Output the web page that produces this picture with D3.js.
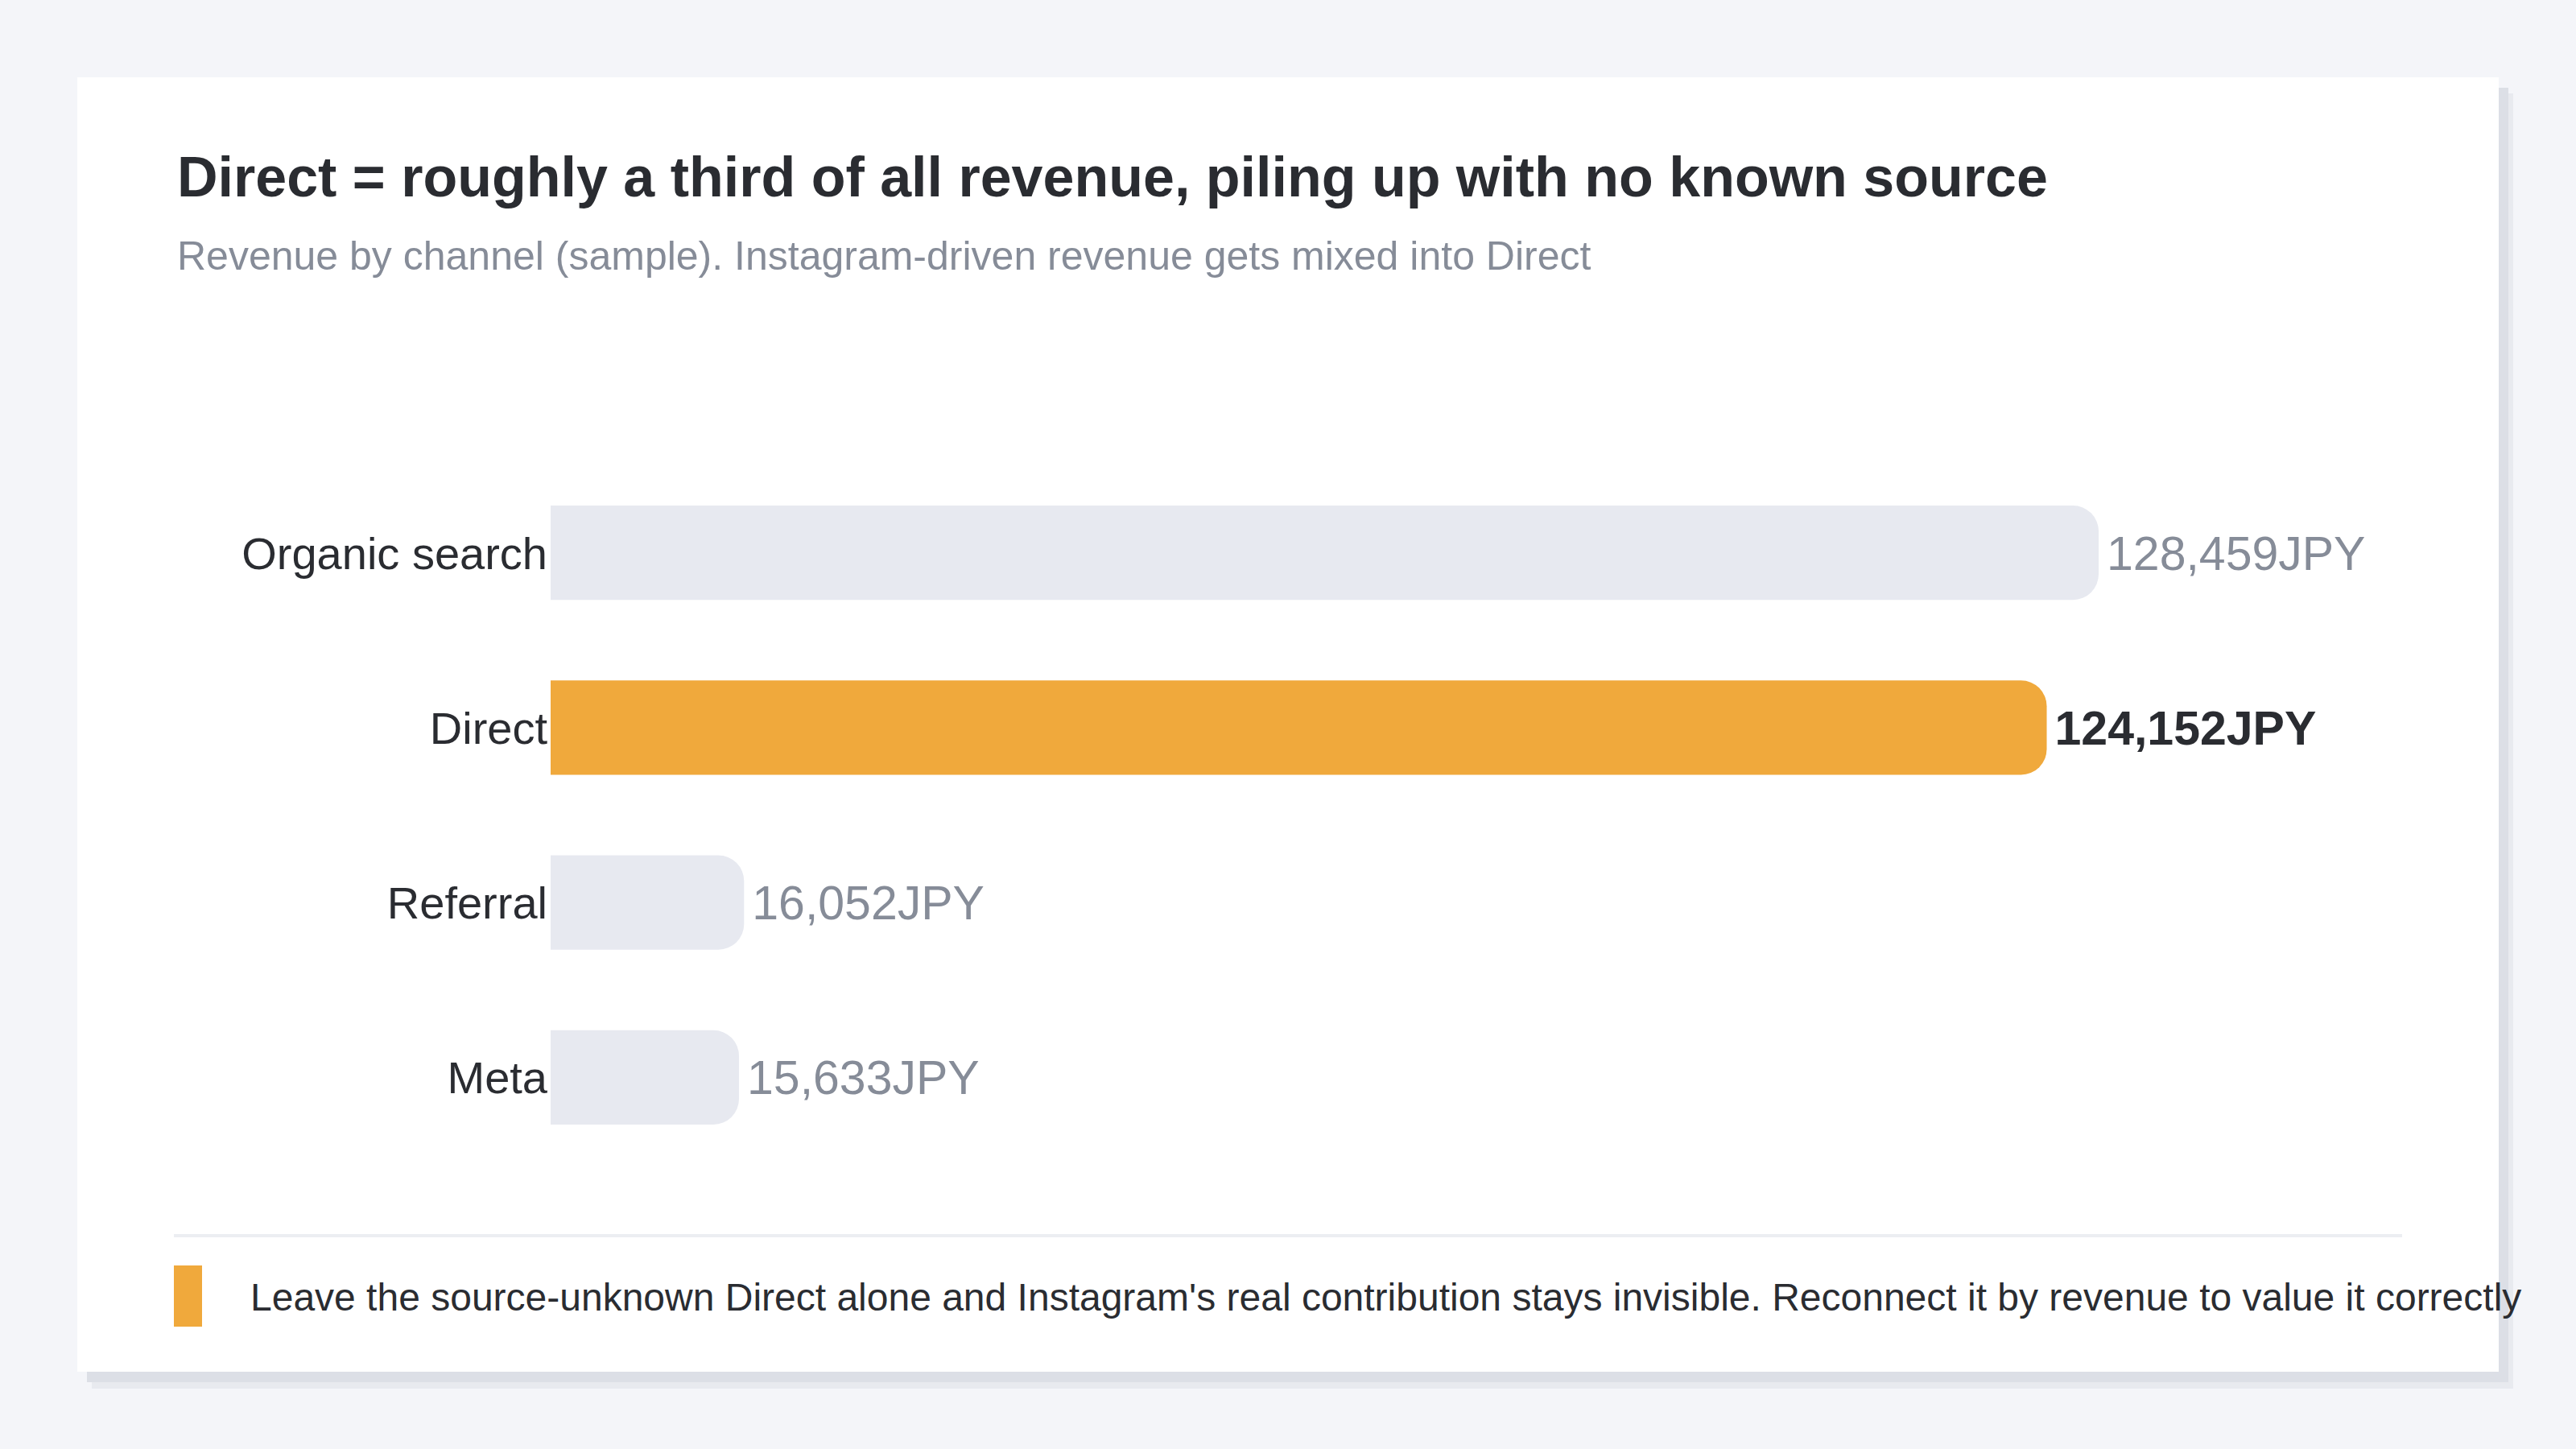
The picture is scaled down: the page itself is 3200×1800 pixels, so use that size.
<!DOCTYPE html>
<html>
<head>
<meta charset="utf-8">
<script src="https://cdn.jsdelivr.net/npm/d3@7"></script>
<style>
  body { margin: 0; background: #f4f5f9; }
  svg { display: block; font-family: "Liberation Sans", Arial, sans-serif; }
</style>
</head>
<body>
<div id="chart"></div>
<script>

// data
var channels = ["Organic search", "Direct", "Referral", "Meta"];
var revenue = [128459, 124152, 16052, 15633];
var highlight = "Direct";

var titleText = "Direct = roughly a third of all revenue, piling up with no known source";
var subtitleText = "Revenue by channel (sample). Instagram-driven revenue gets mixed into Direct";
var noteText = "Leave the source-unknown Direct alone and Instagram's real contribution stays invisible. Reconnect it by revenue to value it correctly";

var width = 3200;
var height = 1800;

var card = {x: 96, y: 96, w: 3008, h: 1608};
var orange = "#f0a93c";
var greyBar = "#e7e9f0";
var dark = "#2a2c31";
var muted = "#868c98";

var svg = d3.select("#chart")
            .append("svg")
            .attr("width", width)
            .attr("height", height);

// background
svg.append("rect")
    .attr("width", width)
    .attr("height", height)
    .attr("fill", "#f4f5f9");

// card shadow, two flat bands
svg.append("rect")
    .attr("x", card.x + 18).attr("y", card.y + 20)
    .attr("width", card.w).attr("height", card.h + 1)
    .attr("fill", "#e8eaef");
svg.append("rect")
    .attr("x", card.x + 12).attr("y", card.y + 13)
    .attr("width", card.w).attr("height", card.h)
    .attr("fill", "#dcdfe6");

svg.append("rect")
    .attr("x", card.x).attr("y", card.y)
    .attr("width", card.w).attr("height", card.h)
    .attr("fill", "#ffffff");

// title and subtitle
svg.append("text")
    .attr("x", 220)
    .attr("y", 244)
    .attr("fill", dark)
    .style("font-size", "70px")
    .style("font-weight", "bold")
    .text(titleText);

svg.append("text")
    .attr("x", 220)
    .attr("y", 335)
    .attr("fill", muted)
    .style("font-size", "50px")
    .text(subtitleText);

// scales
var x = d3.scaleLinear()
    .domain([0, d3.max(revenue)])
    .range([684, 2607]);

var y = d3.scaleBand()
    .domain(channels)
    .range([578, 1447])
    .paddingInner(0.46)
    .paddingOuter(0.23);

var rows = channels.map(function(c, i) {
    return {name: c, value: revenue[i]};
});

// bar with square left side and rounded right side
function barPath(d) {
    var x0 = x(0), x1 = x(d.value);
    var y0 = y(d.name), h = y.bandwidth();
    var r = Math.min(32, (x1 - x0) / 2);
    var p = d3.path();
    p.moveTo(x0, y0);
    p.lineTo(x1 - r, y0);
    p.arcTo(x1, y0, x1, y0 + r, r);
    p.lineTo(x1, y0 + h - r);
    p.arcTo(x1, y0 + h, x1 - r, y0 + h, r);
    p.lineTo(x0, y0 + h);
    p.closePath();
    return p.toString();
}

var bars = svg.append("g").attr("class", "bars");

bars.selectAll("path")
    .data(rows)
  .enter().append("path")
    .attr("d", barPath)
    .attr("fill", function(d) {
        return d.name == highlight ? orange : greyBar;
    });

// channel names
bars.selectAll("text.name")
    .data(rows)
  .enter().append("text")
    .attr("class", "name")
    .attr("x", x(0) - 4)
    .attr("y", function(d) { return y(d.name) + y.bandwidth() / 2 + 0.358 * 56; })
    .attr("text-anchor", "end")
    .attr("fill", dark)
    .style("font-size", "56px")
    .text(function(d) { return d.name; });

// value labels
var fmt = d3.format(",");
bars.selectAll("text.value")
    .data(rows)
  .enter().append("text")
    .attr("class", "value")
    .attr("x", function(d) { return x(d.value) + 10; })
    .attr("y", function(d) { return y(d.name) + y.bandwidth() / 2 + 0.358 * 59; })
    .attr("fill", function(d) { return d.name == highlight ? dark : muted; })
    .style("font-size", "59px")
    .style("font-weight", function(d) { return d.name == highlight ? "bold" : "normal"; })
    .text(function(d) { return fmt(d.value) + "JPY"; });

// divider and footnote
svg.append("rect")
    .attr("x", 216).attr("y", 1533)
    .attr("width", 2768).attr("height", 4)
    .attr("fill", "#eceef2");

svg.append("rect")
    .attr("x", 216).attr("y", 1572)
    .attr("width", 35).attr("height", 76)
    .attr("fill", orange);

svg.append("text")
    .attr("x", 311)
    .attr("y", 1628)
    .attr("fill", dark)
    .style("font-size", "48px")
    .text(noteText);

</script>
</body>
</html>
